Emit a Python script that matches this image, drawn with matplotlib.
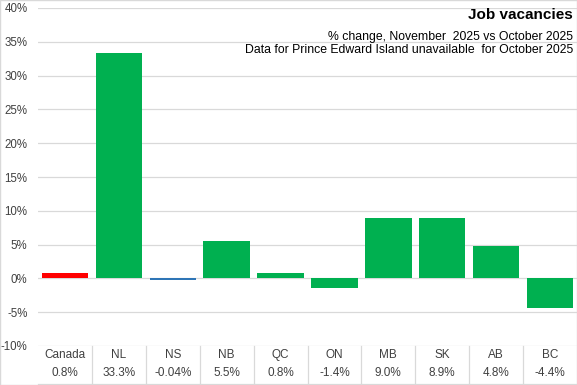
import matplotlib.pyplot as plt
from matplotlib.ticker import FuncFormatter

regions = ["Canada", "NL", "NS", "NB", "QC", "ON", "MB", "SK", "AB", "BC"]
change = [0.8, 33.3, -0.04, 5.5, 0.8, -1.4, 9.0, 8.9, 4.8, -4.4]
labels = ["0.8%", "33.3%", "-0.04%", "5.5%", "0.8%", "-1.4%", "9.0%", "8.9%", "4.8%", "-4.4%"]
yticks = [-10, -5, 0, 5, 10, 15, 20, 25, 30, 35, 40]

plt.rcParams['font.family'] = ['Liberation Sans', 'DejaVu Sans']

colors = []
for r in regions:
    if r == "Canada":
        colors.append("#FF0000")
    elif r == "NS":
        colors.append("#2E75B6")
    else:
        colors.append("#00B050")

fig = plt.figure(figsize=(5.77, 3.85), dpi=100)
ax = fig.add_axes([38 / 577, 39 / 385, 539 / 577, 338 / 385])

x = list(range(len(regions)))
ax.bar(x, change, width=0.86, color=colors, zorder=3)
# NS is so small it shows as a line
ax.bar([2], [-0.25], width=0.86, color="#2E75B6", zorder=3)

ax.set_xlim(-0.5, len(regions) - 0.5)
ax.set_ylim(-10, 40)
ax.set_yticks(yticks)
ax.yaxis.set_major_formatter(FuncFormatter(lambda v, p: f"{v:.0f}%"))
ax.tick_params(axis="y", length=0, labelsize=8.3, colors="#404040", pad=7.5)
ax.set_xticks([])
ax.grid(axis="y", color="#D9D9D9", linewidth=0.9, zorder=0)
for s in ax.spines.values():
    s.set_visible(False)

# data table under the chart
bottom = -10 - 38 / 338 * 50
ax.plot([-0.5, len(regions) - 0.5], [bottom, bottom], color="#D9D9D9", lw=0.9, clip_on=False)
for i in range(1, len(regions)):
    ax.plot([i - 0.5, i - 0.5], [-10, bottom], color="#D9D9D9", lw=0.9, clip_on=False)
for i, (r, l) in enumerate(zip(regions, labels)):
    ax.text(i, -10 - 9 / 338 * 50, r, ha="center", va="center", fontsize=8.5, color="#404040")
    ax.text(i, -10 - 27 / 338 * 50, l, ha="center", va="center", fontsize=8.5, color="#404040")

fig.text(573 / 577, 1 - 15 / 385, "Job vacancies", ha="right", va="center",
         fontsize=11, fontweight="bold", color="black")
fig.text(573 / 577, 1 - 37 / 385, "% change, November  2025 vs October 2025", ha="right",
         va="center", fontsize=8.8, color="black")
fig.text(573 / 577, 1 - 50 / 385, "Data for Prince Edward Island unavailable  for October 2025",
         ha="right", va="center", fontsize=8.8, color="black")

fig.add_artist(plt.Rectangle((0, 0), 1, 1, transform=fig.transFigure, fill=False,
                             edgecolor="#D9D9D9", lw=1))

fig.savefig("out.png", dpi=100)
